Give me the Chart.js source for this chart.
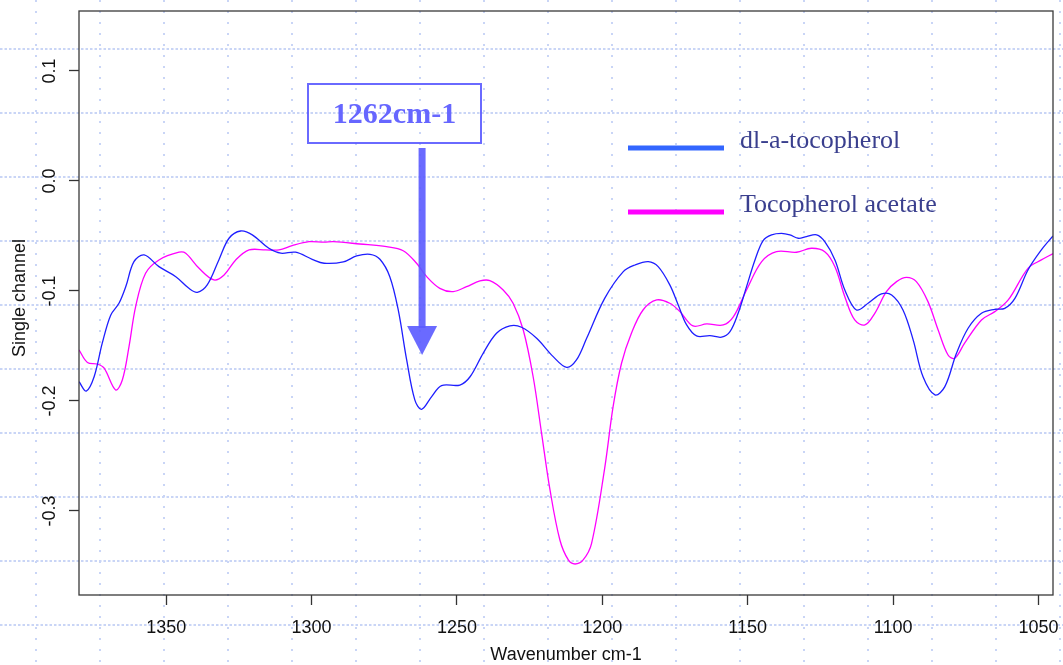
<!DOCTYPE html>
<html>
<head>
<meta charset="utf-8">
<script src="https://cdn.jsdelivr.net/npm/chart.js@4/dist/chart.umd.min.js"></script>
<style>
  html, body { margin: 0; padding: 0; background: #fff; }
  canvas { display: block; }
</style>
</head>
<body>
<canvas id="spectrum" width="1063" height="665"></canvas>
<script>
// dl-a-tocopherol (blue) spectrum
const blueWn = [1380, 1377.5, 1374.8, 1372, 1369.1, 1366.2, 1363.9, 1361.1, 1357.6, 1352.5, 1346.7, 1342.2, 1339.3, 1335.9, 1331.9, 1328.4, 1324.4, 1320.4, 1314.7, 1310.6, 1305.5, 1299.8, 1295.7, 1289.1, 1284.5, 1279.9, 1276.5, 1273.1, 1270.2, 1267.3, 1264.5, 1262.2, 1258.7, 1255.3, 1249, 1245.5, 1241, 1236.4, 1231.8, 1227.8, 1222.6, 1216.9, 1212.3, 1208.9, 1205.4, 1199.2, 1192.8, 1188.8, 1184.2, 1180.8, 1176.8, 1173.9, 1171.0, 1167.6, 1163, 1159, 1156.1, 1153.3, 1150.4, 1147.5, 1144.7, 1141.8, 1138.4, 1135.5, 1132.6, 1129.8, 1126.3, 1123.5, 1120, 1116.6, 1112.6, 1108.6, 1104, 1100.5, 1096.6, 1093.1, 1089.7, 1085.6, 1082.2, 1078.2, 1074.2, 1069.6, 1065, 1061.6, 1058.1, 1053.6, 1049, 1045];
const blueVals = [-0.1825, -0.191, -0.178, -0.1475, -0.122, -0.111, -0.096, -0.0734, -0.0673, -0.0779, -0.087, -0.0976, -0.1012, -0.0945, -0.0718, -0.0521, -0.0455, -0.049, -0.0612, -0.0657, -0.0648, -0.0712, -0.0748, -0.0736, -0.0682, -0.0667, -0.0712, -0.087, -0.1173, -0.1627, -0.199, -0.2076, -0.196, -0.186, -0.1855, -0.178, -0.1567, -0.1385, -0.1318, -0.133, -0.143, -0.1597, -0.1694, -0.1627, -0.143, -0.1067, -0.0824, -0.0764, -0.0733, -0.0779, -0.0945, -0.1127, -0.1309, -0.1409, -0.1406, -0.142, -0.137, -0.1203, -0.0961, -0.0718, -0.0542, -0.049, -0.0476, -0.049, -0.0521, -0.0506, -0.049, -0.0552, -0.0718, -0.0991, -0.1173, -0.1112, -0.1027, -0.1036, -0.1173, -0.1445, -0.178, -0.1945, -0.187, -0.1567, -0.1339, -0.1203, -0.1167, -0.1158, -0.1067, -0.0809, -0.0627, -0.05];

// Tocopherol acetate (magenta) spectrum
const magWn = [1380, 1377.1, 1373.7, 1371.4, 1367.4, 1365.1, 1362.8, 1360.5, 1357.1, 1352.5, 1345.6, 1343.3, 1338.7, 1333.6, 1330.1, 1326.1, 1321.5, 1315.8, 1311.2, 1306.7, 1300.9, 1295.7, 1292.5, 1283.4, 1274.2, 1268.5, 1263.9, 1260.4, 1255.9, 1251.3, 1246.7, 1242.1, 1238.7, 1234.1, 1230.7, 1227.2, 1223.8, 1220.9, 1218.0, 1214.6, 1211.7, 1209.4, 1206.6, 1203.7, 1199.2, 1196.3, 1193.4, 1190, 1186, 1181.3, 1176.8, 1173.3, 1168.8, 1164.1, 1158.4, 1154.9, 1150.4, 1145.2, 1140.1, 1133.2, 1128.1, 1123.5, 1120, 1116.6, 1113.2, 1109.7, 1106.3, 1102.3, 1098.8, 1095.4, 1092, 1088, 1084.5, 1081.1, 1078.8, 1075.4, 1069.6, 1065, 1060.4, 1053.6, 1049, 1045];
const magVals = [-0.1536, -0.165, -0.1664, -0.170, -0.19, -0.181, -0.1506, -0.114, -0.0839, -0.0718, -0.0648, -0.0657, -0.0794, -0.09, -0.0855, -0.0718, -0.0627, -0.0627, -0.0627, -0.0588, -0.0552, -0.0557, -0.0552, -0.0573, -0.0597, -0.0634, -0.0748, -0.087, -0.0976, -0.1006, -0.0961, -0.0909, -0.0906, -0.0991, -0.1112, -0.1355, -0.178, -0.2294, -0.2809, -0.3264, -0.3445, -0.3482, -0.3445, -0.3294, -0.2612, -0.2052, -0.1657, -0.1385, -0.1173, -0.1082, -0.1112, -0.1188, -0.1318, -0.13, -0.1309, -0.1234, -0.0991, -0.0734, -0.0643, -0.0648, -0.0612, -0.0643, -0.0779, -0.1052, -0.1264, -0.1309, -0.1203, -0.1006, -0.0915, -0.0876, -0.0915, -0.1097, -0.1355, -0.1582, -0.1612, -0.1475, -0.1264, -0.1188, -0.1082, -0.0794, -0.0718, -0.0661];

const seriesNames = ['dl-a-tocopherol', 'Tocopherol acetate'];
const xTickVals = [1350, 1300, 1250, 1200, 1150, 1100, 1050];
const yTickVals = [0.1, 0.0, -0.1, -0.2, -0.3];
const yTickLabels = ['0.1', '0.0', '-0.1', '-0.2', '-0.3'];
const peakWn = 1262;
const peakLabel = '1262cm-1';

const SANS = '"Liberation Sans", Arial, sans-serif';
const SERIF = '"Liberation Serif", "Times New Roman", serif';

function toPoints(xs, ys) {
    return xs.map((x, i) => ({ x: x, y: ys[i] }));
}

// dotted slide grid behind everything
const slideGrid = {
    id: 'slideGrid',
    beforeDraw(chart) {
        const ctx = chart.ctx;
        const w = chart.width, h = chart.height;
        ctx.save();
        ctx.fillStyle = '#ffffff';
        ctx.fillRect(0, 0, w, h);
        ctx.strokeStyle = '#c9d5f6';
        ctx.lineWidth = 2;
        ctx.setLineDash([2, 9]);
        for (let x = 36; x < w; x += 64) {
            ctx.beginPath();
            ctx.moveTo(x, 0);
            ctx.lineTo(x, h);
            ctx.stroke();
        }
        ctx.setLineDash([2.5, 2]);
        for (let y = 49; y < h; y += 64) {
            ctx.beginPath();
            ctx.moveTo(0, y);
            ctx.lineTo(w, y);
            ctx.stroke();
        }
        ctx.restore();
    }
};

// frame, y labels, axis titles, peak marker and key
const decorations = {
    id: 'decorations',
    afterDraw(chart) {
        const ctx = chart.ctx;
        const a = chart.chartArea;
        const xs = chart.scales.x, ys = chart.scales.y;
        ctx.save();

        ctx.strokeStyle = '#3a3a3a';
        ctx.lineWidth = 1.3;
        ctx.strokeRect(a.left, a.top, a.right - a.left, a.bottom - a.top);

        ctx.fillStyle = '#111';
        ctx.font = '18px ' + SANS;
        ctx.textAlign = 'center';
        ctx.textBaseline = 'middle';
        yTickVals.forEach((v, i) => {
            ctx.save();
            ctx.translate(50, ys.getPixelForValue(v));
            ctx.rotate(-Math.PI / 2);
            ctx.fillText(yTickLabels[i], 0, 0);
            ctx.restore();
        });
        ctx.save();
        ctx.translate(20, (a.top + a.bottom) / 2 - 5);
        ctx.rotate(-Math.PI / 2);
        ctx.fillText('Single channel', 0, 0);
        ctx.restore();
        ctx.fillText('Wavenumber cm-1', (a.left + a.right) / 2, 655);

        // peak marker
        const px = xs.getPixelForValue(peakWn);
        const markColor = 'rgba(90, 90, 255, 0.9)';
        ctx.strokeStyle = markColor;
        ctx.lineWidth = 2;
        ctx.strokeRect(308, 84, 173, 59);
        ctx.fillStyle = '#6666ff';
        ctx.font = 'bold 30px ' + SERIF;
        ctx.fillText(peakLabel, 394.5, 115);
        ctx.fillStyle = markColor;
        ctx.fillRect(px - 3.5, 148, 7, 180);
        ctx.beginPath();
        ctx.moveTo(px - 15, 326);
        ctx.lineTo(px + 15, 326);
        ctx.lineTo(px, 355);
        ctx.closePath();
        ctx.fill();

        // key
        const keyColors = ['#3366ff', '#ff00ff'];
        const keyY = [148, 212];
        ctx.lineWidth = 5;
        ctx.font = '26px ' + SERIF;
        ctx.textAlign = 'left';
        ctx.textBaseline = 'alphabetic';
        seriesNames.forEach((name, i) => {
            ctx.strokeStyle = keyColors[i];
            ctx.beginPath();
            ctx.moveTo(628, keyY[i]);
            ctx.lineTo(724, keyY[i]);
            ctx.stroke();
            ctx.fillStyle = '#3a3f8e';
            ctx.fillText(name, 740, keyY[i]);
        });
        ctx.restore();
    }
};

const ctx = document.getElementById('spectrum').getContext('2d');
new Chart(ctx, {
    type: 'line',
    data: {
        datasets: [{
            label: seriesNames[0],
            data: toPoints(blueWn, blueVals),
            borderColor: '#1e1eff',
            borderWidth: 1.3,
            pointRadius: 0,
            tension: 0.35,
            fill: false
        }, {
            label: seriesNames[1],
            data: toPoints(magWn, magVals),
            borderColor: '#ff00ff',
            borderWidth: 1.3,
            pointRadius: 0,
            tension: 0.35,
            fill: false
        }]
    },
    options: {
        responsive: false,
        animation: false,
        layout: { padding: { left: 0, top: 11, right: 10, bottom: 0 } },
        plugins: {
            legend: { display: false },
            tooltip: { enabled: false }
        },
        scales: {
            x: {
                type: 'linear',
                reverse: true,
                min: 1045,
                max: 1380,
                afterBuildTicks: axis => { axis.ticks = xTickVals.map(v => ({ value: v })); },
                afterFit: axis => {
                    axis.height = 70;
                    axis.paddingLeft = 0;
                    axis.paddingRight = 0;
                },
                grid: { drawOnChartArea: false, drawTicks: true, tickLength: 10, color: '#333', tickWidth: 1.3 },
                border: { display: false },
                ticks: {
                    color: '#111',
                    padding: 12,
                    maxRotation: 0,
                    font: { family: SANS, size: 18 },
                    callback: v => String(v)
                }
            },
            y: {
                type: 'linear',
                min: -0.3764,
                max: 0.1545,
                afterBuildTicks: axis => { axis.ticks = yTickVals.map(v => ({ value: v })); },
                afterFit: axis => { axis.width = 79; },
                grid: { drawOnChartArea: false, drawTicks: true, tickLength: 10, color: '#333', tickWidth: 1.3 },
                border: { display: false },
                ticks: { display: false }
            }
        }
    },
    plugins: [slideGrid, decorations]
});
</script>
</body>
</html>
